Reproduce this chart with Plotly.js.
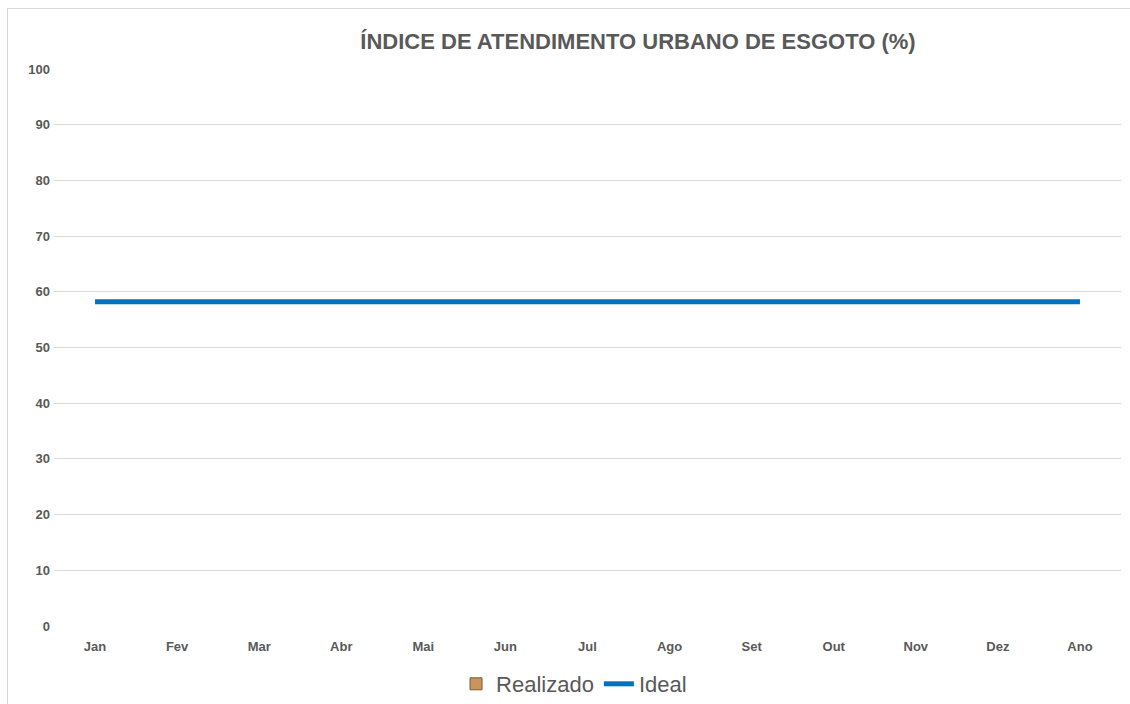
<!DOCTYPE html>
<html>
<head>
<meta charset="utf-8">
<script src="https://cdn.plot.ly/plotly-3.0.1.min.js"></script>
<style>
  html, body { margin: 0; padding: 0; background: #fff; }
  #frame { position: absolute; left: 7px; top: 8px; width: 1140px; height: 720px;
           border-left: 1px solid #d9d9d9; border-top: 1px solid #d9d9d9; }
  #chart { position: absolute; left: 0; top: 0; width: 1130px; height: 704px; }
</style>
</head>
<body>
<div id="frame"></div>
<div id="chart"></div>
<script>
const categories = ["Jan","Fev","Mar","Abr","Mai","Jun","Jul","Ago","Set","Out","Nov","Dez","Ano"];
const realizado = [null,null,null,null,null,null,null,null,null,null,null,null,null];
const ideal = [58.2,58.2,58.2,58.2,58.2,58.2,58.2,58.2,58.2,58.2,58.2,58.2,58.2];
const yTicks = [0,10,20,30,40,50,60,70,80,90,100];

const traces = [
  {
    type: 'bar', name: 'Realizado', x: categories, y: realizado,
    marker: { color: '#C9955D', line: { color: '#7a5a3a', width: 1 } }
  },
  {
    type: 'scatter', mode: 'lines', name: 'Ideal', x: categories, y: ideal,
    line: { color: '#0070C0', width: 5 }
  }
];

const layout = {
  width: 1130, height: 704,
  paper_bgcolor: 'rgba(0,0,0,0)', plot_bgcolor: 'rgba(0,0,0,0)',
  margin: { l: 54, r: 9, t: 69, b: 78, autoexpand: false },
  title: {
    text: 'ÍNDICE DE ATENDIMENTO URBANO DE ESGOTO (%)',
    font: { family: 'Liberation Sans, Arial', size: 22, color: '#595959', weight: 'bold' },
    xref: 'container', yref: 'container', x: 0.5646, y: 0.942, xanchor: 'center', yanchor: 'middle'
  },
  xaxis: {
    type: 'category', categoryorder: 'array', categoryarray: categories,
    showgrid: false, showline: false, zeroline: false, ticks: '',
    tickfont: { family: 'Liberation Sans, Arial', size: 13, color: '#595959', weight: 'bold' },
    ticklabelstandoff: 11
  },
  yaxis: {
    range: [0, 100], tickvals: yTicks, ticktext: yTicks.map(String),
    showgrid: true, gridcolor: '#d9d9d9', gridwidth: 1, zeroline: false, showline: false, ticks: '',
    tickfont: { family: 'Liberation Sans, Arial', size: 13, color: '#595959', weight: 'bold' },
    ticklabelstandoff: 3
  },
  showlegend: true,
  legend: {
    orientation: 'h', xref: 'container', yref: 'container',
    x: 0.508, xanchor: 'center', y: 0.0284, yanchor: 'middle',
    font: { family: 'Liberation Sans, Arial', size: 22, color: '#595959' },
    bgcolor: 'rgba(0,0,0,0)'
  }
};

Plotly.newPlot('chart', traces, layout, { displayModeBar: false, responsive: false });
</script>
</body>
</html>
